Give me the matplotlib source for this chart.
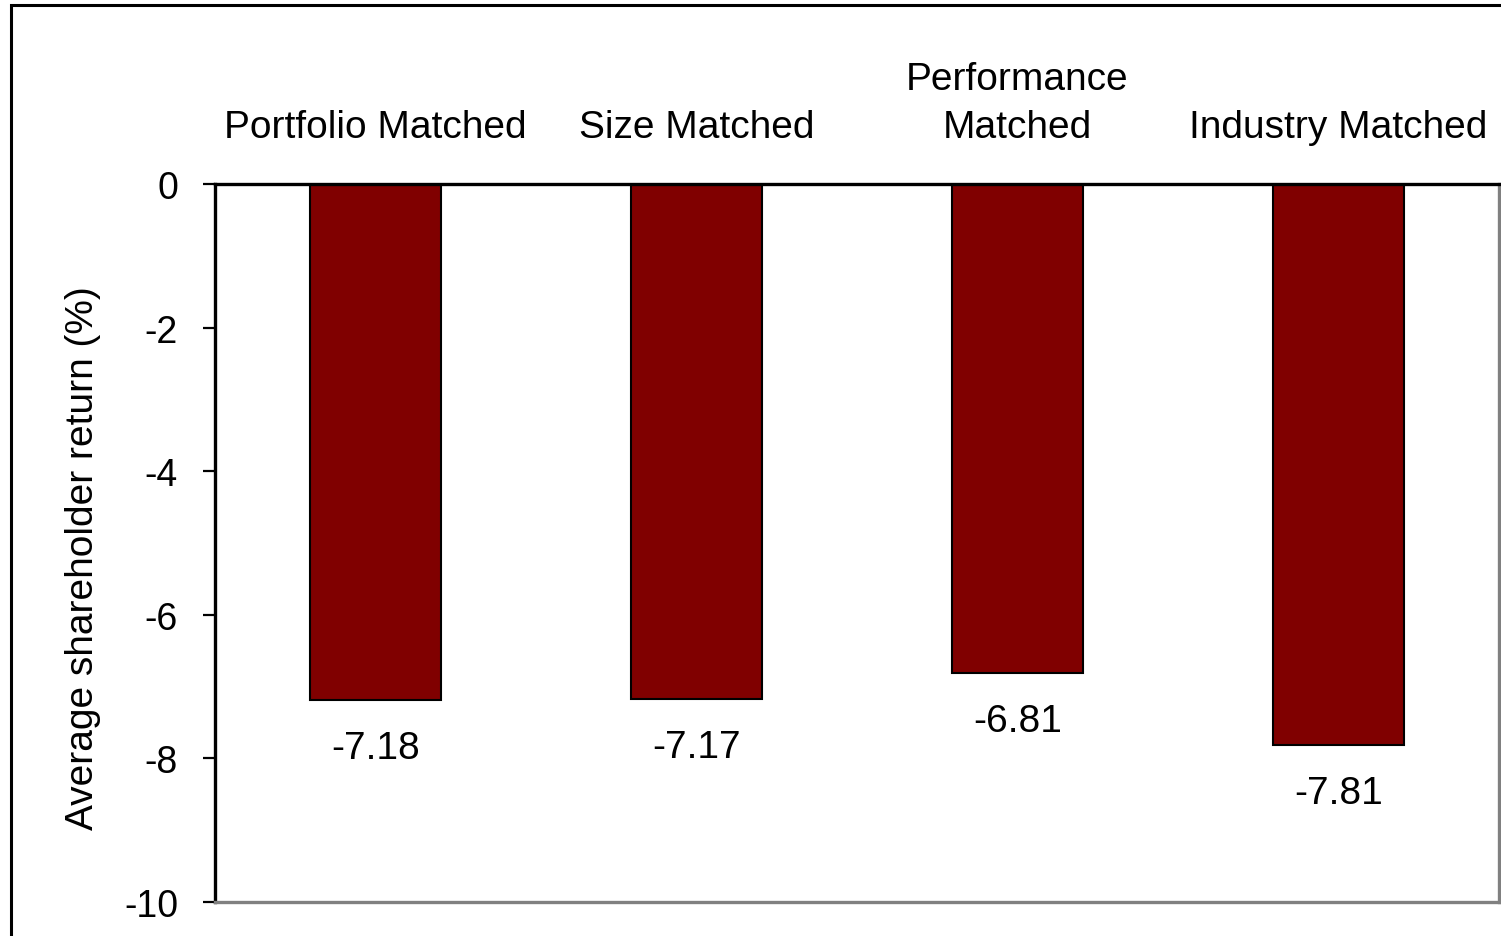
import matplotlib
matplotlib.use("Agg")
import matplotlib.pyplot as plt
from matplotlib.patches import Rectangle

categories = ["Portfolio Matched", "Size Matched", "Performance\nMatched", "Industry Matched"]
values = [-7.18, -7.17, -6.81, -7.81]
value_labels = ["-7.18", "-7.17", "-6.81", "-7.81"]
yticks = [0, -2, -4, -6, -8, -10]

W, H = 1501, 937
DPI = 100
plt.rcParams['font.family'] = ['Liberation Sans', 'DejaVu Sans']
FS = 28

fig = plt.figure(figsize=(W / DPI, H / DPI), dpi=DPI)
fig.patch.set_facecolor('white')

# outer border (cut at right and bottom)
fig.add_artist(Rectangle((11 / W, -0.05), 1.2, 1 - 6 / H + 0.05, transform=fig.transFigure,
                         fill=False, edgecolor='black', linewidth=2.2))

L, R, T, B = 215, 1499, 185, 903
ax = fig.add_axes([L / W, 1 - B / H, (R - L) / W, (B - T) / H])

x = list(range(len(categories)))
ax.bar(x, values, width=0.405, color='#800000', edgecolor='black', linewidth=1.5, zorder=2)
ax.set_xlim(-0.5, len(categories) - 0.5)
ax.set_ylim(-10, 0)
ax.set_yticks(yticks)
ax.set_yticklabels([str(t) for t in yticks], fontsize=27)
ax.tick_params(axis='y', direction='out', length=8.6, width=1.6, pad=18, color='black')
ax.set_xticks([])

for s in ['left', 'top']:
    ax.spines[s].set_color('black')
    ax.spines[s].set_linewidth(2.4)
for s in ['right', 'bottom']:
    ax.spines[s].set_color('#808080')
    ax.spines[s].set_linewidth(2.4)
ax.spines['top'].set_zorder(3)

fig.text(83 / W, 1 - 558 / H, "Average shareholder return (%)", fontsize=FS,
         rotation=90, ha='center', va='center')

# category labels above the plot
for i, c in enumerate(categories):
    lines = c.split("\n")
    for j, line in enumerate(reversed(lines)):
        ax.annotate(line, xy=(i, 1), xycoords=('data', 'axes fraction'),
                    xytext=(0, (47 + j * 48) * 72 / DPI), textcoords='offset points',
                    ha='center', va='baseline', fontsize=FS, annotation_clip=False)

# value labels below bars
for i, (v, lab) in enumerate(zip(values, value_labels)):
    ax.annotate(lab, xy=(i, v), xytext=(0, -58 * 72 / DPI), textcoords='offset points',
                ha='center', va='baseline', fontsize=FS)

fig.savefig("out.png", dpi=DPI)
